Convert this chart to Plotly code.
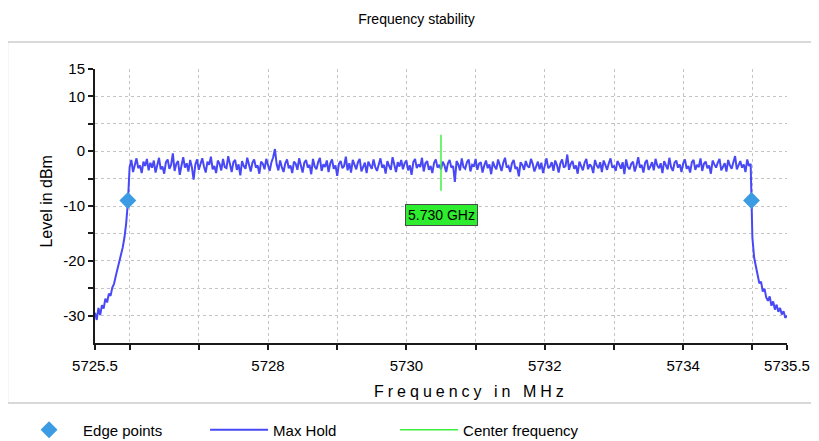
import plotly.graph_objects as go

# analyzer sweep: 401 points, 25 kHz apart
f_start = 5725.5
f_step = 0.025

# Max Hold levels in dBm
skirt_low = [
    -29.5, -30.8, -28.6, -29.9, -28.1, -28.7, -26.9, -27.6, -26.0, -26.4,
    -24.9, -24.2, -22.8, -21.3, -20.1, -18.9, -17.6, -15.8, -13.2, -9.4,
]
plateau = [
    -2.9, -1.6, -3.8, -2.2, -1.3, -3.1, -2.6, -4.0, -1.9, -2.7, -1.4, -3.5, -2.1, -3.0, -1.7, -3.9, -2.4, -1.2, -3.3, -2.8,
    -4.1, -2.0, -1.5, -3.2, -2.5, -0.4, -3.6, -2.3, -1.8, -4.3, -2.6, -1.1, -3.0, -2.2, -3.7, -1.6, -2.9, -5.2, -2.4, -1.5,
    -3.4, -2.1, -1.3, -2.8, -3.9, -1.9, -2.5, -1.0, -3.3, -2.7, -4.0, -1.7, -2.3, -3.5, -1.4, -2.9, -3.1, -0.9, -2.6, -3.8,
    -2.0, -1.6, -3.4, -2.4, -4.4, -1.8, -2.7, -3.2, -1.2, -2.5, -3.7, -2.1, -1.5, -3.0, -2.6, -4.1, -1.9, -2.3, -3.3, -1.4,
    -2.8, -3.6, -2.0, -1.1, 0.4, -2.4, -3.5, -1.7, -2.9, -3.8, -2.2, -1.5, -3.1, -2.6, -4.0, -1.9, -2.3, -3.4, -1.3, -2.7,
    -3.9, -2.1, -1.6, -3.0, -2.5, -4.2, -1.4, -2.8, -3.3, -2.0, -1.2, -3.6, -2.4, -2.9, -1.7, -3.8, -2.2, -1.5, -3.2, -2.6,
    -4.5, -2.3, -1.8, -3.1, -2.7, -1.0, -3.5, -2.2, -3.9, -1.6, -2.5, -3.3, -2.0, -1.4, -3.7, -2.8, -2.1, -4.0, -1.9, -2.6,
    -3.2, -1.5, -2.9, -3.6, -2.3, -1.3, -3.0, -2.5, -4.1, -1.8, -2.7, -3.4, -1.1, -2.4, -3.8, -2.0, -2.8, -1.6, -3.3, -2.2,
    -1.7, -3.5, -2.6, -4.3, -2.0, -1.4, -3.1, -2.4, -2.9, -1.2, -3.7, -2.2, -1.8, -3.4, -2.7, -4.0, -2.1, -1.5, -3.0, -2.5,
    -3.3, -1.9, -2.6, -3.8, -2.2, -1.6, -3.0, -2.7, -5.6, -1.8, -2.4, -3.5, -1.3, -2.9, -3.2, -2.0, -1.5, -3.7, -2.5, -2.8,
    -1.4, -3.4, -2.3, -2.0, -3.9, -2.6, -1.7, -3.1, -2.4, -4.2, -1.9, -2.8, -3.3, -1.5, -2.5, -3.6, -2.1, -1.2, -3.0, -2.7,
    -3.8, -2.2, -1.6, -3.2, -2.9, -4.6, -2.0, -2.5, -3.4, -1.8, -2.7, -3.0, -1.4, -2.3, -3.7, -2.6, -1.9, -3.3, -2.1, -4.0,
    -2.4, -1.3, -3.1, -2.8, -2.0, -3.6, -1.7, -2.5, -3.9, -2.2, -1.5, -3.0, -2.7, -0.6, -3.4, -2.3, -1.8, -3.2, -2.6, -4.1,
    -1.9, -2.9, -3.5, -2.1, -1.4, -3.3, -2.4, -2.8, -4.0, -1.6, -2.6, -3.1, -2.0, -3.8, -1.7, -2.5, -3.4, -2.2, -1.3, -3.0,
    -2.7, -3.6, -1.8, -2.4, -3.2, -2.0, -4.2, -1.5, -2.9, -3.3, -2.3, -1.9, -3.7, -2.6, -1.1, -3.0, -2.5, -3.9, -2.1, -1.6,
    -3.4, -2.8, -2.0, -3.5, -1.4, -2.6, -3.1, -2.2, -4.0, -1.8, -2.5, -3.3, -1.2, -2.9, -3.6, -2.1, -1.7, -3.0, -2.4, -3.8,
    -2.2, -1.5, -3.2, -2.7, -3.9, -2.0, -1.6, -3.4, -2.5, -2.9, -1.3, -3.6, -2.3, -1.9, -3.1, -2.6, -4.1, -1.7, -2.4, -3.0,
    -2.1, -1.4, -3.5, -2.8, -2.2, -3.7, -1.6, -2.6, -3.2, -2.0, -0.9, -3.3, -2.5, -1.8, -3.0, -2.4, -3.8, -1.5, -2.7, -2.3,
]
skirt_high = [
    -15.8, -19.4, -21.0, -22.6, -24.1, -23.8, -25.6, -25.1, -26.7, -27.3,
    -26.5, -28.2, -27.4, -28.9, -28.0, -29.3, -28.6, -29.8, -29.2, -30.4, -30.0,
]
max_hold = skirt_low + plateau + skirt_high
freq = [round(f_start + f_step * i, 3) for i in range(len(max_hold))]

edge_freq = [5725.975, 5734.987]
edge_level = [-9.0, -9.0]

center_freq = [5730.5, 5730.5]
center_level = [3.0, -7.2]
center_label = "5.730 GHz"

x_tickvals = [5725.5, 5726, 5727, 5728, 5729, 5730, 5731, 5732, 5733, 5734, 5735, 5735.5]
x_ticktext = ["5725.5", "", "", "5728", "", "5730", "", "5732", "", "5734", "", "5735.5"]
y_tickvals = [15, 10, 5, 0, -5, -10, -15, -20, -25, -30]
y_ticktext = ["15", "10", "", "0", "", "-10", "", "-20", "", "-30"]

FONT = "Liberation Sans, Arial, sans-serif"

fig = go.Figure()
fig.add_trace(go.Scatter(
    x=freq, y=max_hold, mode="lines", name="Max Hold",
    line=dict(color="#4848f6", width=2), legendrank=2,
))
fig.add_trace(go.Scatter(
    x=center_freq, y=center_level, mode="lines", name="Center frequency",
    line=dict(color="#3ef03e", width=1.5), legendrank=3,
))
fig.add_trace(go.Scatter(
    x=edge_freq, y=edge_level, mode="markers", name="Edge points",
    marker=dict(symbol="diamond", size=13, color="#3b9be3"), legendrank=1,
))

fig.add_annotation(
    x=center_freq[0], y=-11.7, text=center_label, showarrow=False,
    xanchor="center", yanchor="middle",
    font=dict(family=FONT, size=14, color="#000000"),
    bgcolor="#2eec2e", bordercolor="#4a4a4a", borderwidth=1, borderpad=2,
)

# axis titles
fig.add_annotation(
    xref="paper", yref="paper", x=-0.0701, y=0.518, textangle=-90,
    xanchor="center", yanchor="middle",
    text="Level in dBm", showarrow=False,
    font=dict(family=FONT, size=16, color="#000000"),
)
fig.add_annotation(
    xref="paper", yref="paper", x=0.543, y=-0.1788,
    xanchor="center", yanchor="middle",
    text='<span style="letter-spacing:4px">Frequency in MHz</span>', showarrow=False,
    font=dict(family=FONT, size=16, color="#000000"),
)

# frame around the chart
fig.add_shape(
    type="rect", xref="paper", yref="paper",
    x0=-0.1264, x1=1.0419, y0=-0.219, y1=1.0985,
    line=dict(color="#b4b4b4", width=1.2), layer="below",
)

grid = dict(showgrid=True, gridcolor="#c4c4c4", gridwidth=1, griddash="dot", zeroline=False)
fig.update_xaxes(
    range=[5725.5, 5735.5], tickvals=x_tickvals, ticktext=x_ticktext,
    showline=True, linecolor="#1a1a1a", linewidth=2, automargin=False,
    ticks="outside", ticklen=5, tickwidth=1.5, tickcolor="#1a1a1a",
    ticklabelstandoff=3,
    tickfont=dict(family=FONT, size=15, color="#000000"), **grid,
)
fig.update_yaxes(
    range=[-35, 15], tickvals=y_tickvals, ticktext=y_ticktext,
    showline=True, linecolor="#1a1a1a", linewidth=2, automargin=False,
    ticks="outside", ticklen=5, tickwidth=1.5, tickcolor="#1a1a1a",
    tickfont=dict(family=FONT, size=15, color="#000000"), **grid,
)

# the page puts the figure 8 px in from the top-left corner, so the
# figure is 8 px smaller and every margin is measured from there
fig.update_layout(
    width=811, height=433,
    margin=dict(l=87, r=32, t=61, b=98, autoexpand=False),
    paper_bgcolor="#ffffff", plot_bgcolor="#ffffff",
    font=dict(family=FONT, size=15, color="#000000"),
    title=dict(text="Frequency stability", x=0.5037, xanchor="center",
               y=0.9746, yanchor="middle", font=dict(family=FONT, size=14, color="#000000")),
    showlegend=True,
    legend=dict(
        orientation="h", xref="container", yref="container",
        x=0.0087, xanchor="left", y=0.0254, yanchor="middle",
        itemwidth=58, entrywidth=117, font=dict(family=FONT, size=15, color="#000000"),
        bgcolor="rgba(0,0,0,0)",
    ),
)

fig.write_html("out.html")
